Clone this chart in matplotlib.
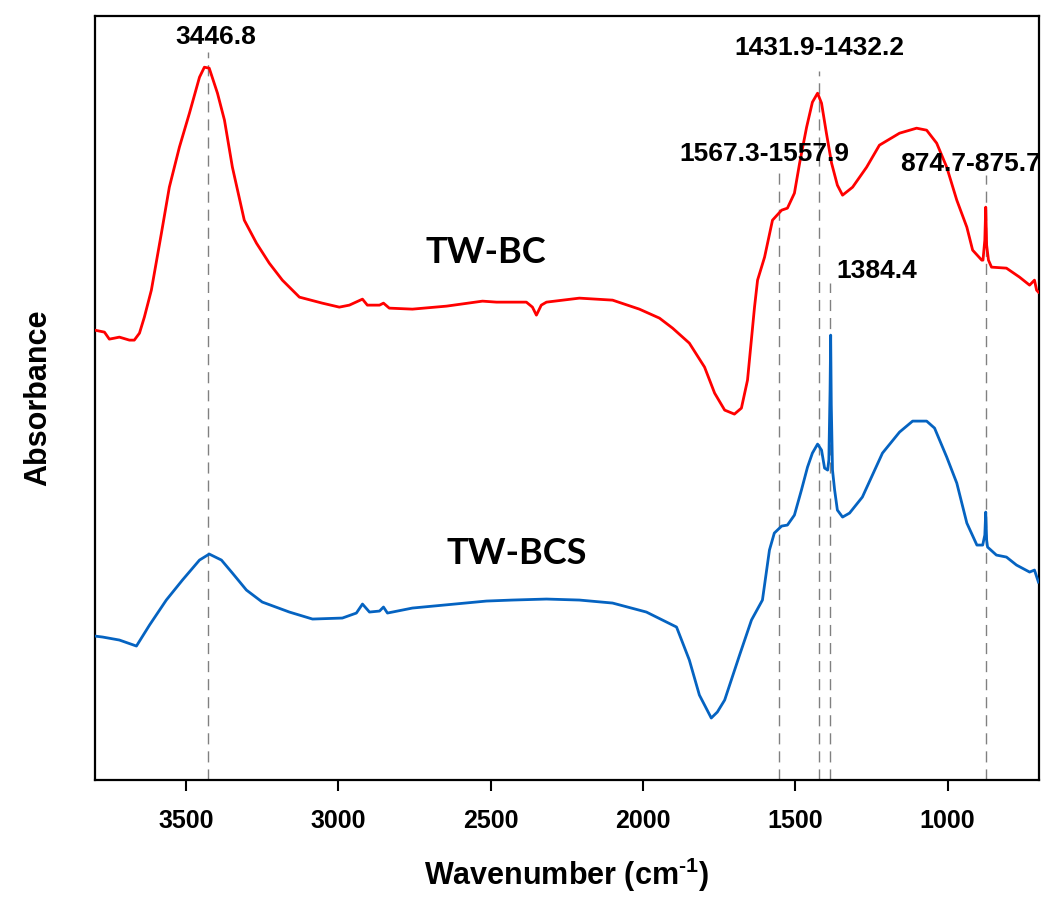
"""FTIR spectra of TW-BC and TW-BCS with annotated band positions."""
import numpy as np
import matplotlib
matplotlib.use("Agg")
import matplotlib.pyplot as plt

plt.rcParams["font.family"] = ["Liberation Sans", "DejaVu Sans"]
plt.rcParams["mathtext.fontset"] = "custom"
plt.rcParams["mathtext.rm"] = "Liberation Sans:bold"
plt.rcParams["mathtext.bf"] = "Liberation Sans:bold"

# ---------------------------------------------------------------------------
# Spectra (wavenumber in cm-1, absorbance in a.u.)
# ---------------------------------------------------------------------------
BC_WN = [3800, 3768, 3752, 3735, 3719, 3686, 3670, 3653, 3637, 3614, 3581,
         3555, 3522, 3489, 3456, 3440, 3424, 3397, 3374, 3348, 3309, 3269,
         3227, 3184, 3128, 3053, 2997, 2964, 2921, 2905, 2865, 2852, 2833,
         2757, 2645, 2527, 2481, 2383, 2363, 2350, 2334, 2317, 2209, 2100,
         2012, 1946, 1903, 1848, 1798, 1765, 1732, 1700, 1677, 1657, 1634,
         1624, 1601, 1575, 1545, 1526, 1503, 1486, 1463, 1444, 1427, 1414,
         1398, 1381, 1362, 1345, 1312, 1266, 1224, 1158, 1102, 1069, 1036,
         1003, 970, 937, 918, 888, 884, 878, 875, 872, 866, 856, 807, 764,
         731, 715, 708, 702]
BC_A = [0.900, 0.896, 0.882, 0.884, 0.886, 0.880, 0.880, 0.894, 0.926, 0.980,
        1.094, 1.186, 1.266, 1.334, 1.406, 1.426, 1.424, 1.374, 1.320, 1.226,
        1.120, 1.074, 1.034, 1.000, 0.966, 0.954, 0.946, 0.950, 0.962, 0.950,
        0.950, 0.954, 0.944, 0.942, 0.948, 0.958, 0.956, 0.956, 0.946, 0.930,
        0.950, 0.956, 0.964, 0.960, 0.942, 0.924, 0.904, 0.874, 0.826, 0.774,
        0.740, 0.732, 0.744, 0.800, 0.946, 1.000, 1.046, 1.120, 1.140, 1.144,
        1.174, 1.234, 1.306, 1.356, 1.374, 1.354, 1.294, 1.234, 1.190, 1.170,
        1.186, 1.226, 1.270, 1.294, 1.304, 1.300, 1.274, 1.226, 1.160, 1.106,
        1.060, 1.040, 1.040, 1.080, 1.146, 1.070, 1.040, 1.026, 1.024, 1.006,
        0.990, 1.000, 0.980, 0.976]

BCS_WN = [3800, 3774, 3719, 3663, 3620, 3565, 3512, 3456, 3424, 3384, 3348,
          3302, 3250, 3161, 3085, 2987, 2941, 2921, 2898, 2865, 2852, 2839,
          2757, 2514, 2429, 2317, 2209, 2100, 1989, 1890, 1848, 1815, 1776,
          1756, 1732, 1683, 1644, 1608, 1585, 1569, 1545, 1526, 1503, 1480,
          1460, 1444, 1427, 1414, 1404, 1394, 1390, 1386, 1384, 1382, 1378,
          1371, 1362, 1345, 1322, 1280, 1214, 1158, 1115, 1069, 1043, 1003,
          970, 937, 904, 885, 878, 875, 872, 869, 840, 807, 774, 731, 715, 702]
BCS_A = [0.288, 0.286, 0.280, 0.268, 0.310, 0.360, 0.400, 0.440, 0.452, 0.440,
         0.414, 0.380, 0.356, 0.336, 0.322, 0.324, 0.334, 0.352, 0.336, 0.338,
         0.346, 0.334, 0.344, 0.358, 0.360, 0.362, 0.360, 0.354, 0.336, 0.306,
         0.240, 0.170, 0.124, 0.136, 0.160, 0.250, 0.320, 0.360, 0.460, 0.494,
         0.508, 0.510, 0.530, 0.580, 0.626, 0.654, 0.672, 0.660, 0.624, 0.620,
         0.640, 0.780, 0.890, 0.750, 0.620, 0.580, 0.540, 0.526, 0.534, 0.566,
         0.654, 0.696, 0.718, 0.718, 0.704, 0.646, 0.594, 0.514, 0.470, 0.470,
         0.490, 0.536, 0.480, 0.466, 0.450, 0.446, 0.430, 0.416, 0.420, 0.396]

# Band markers: line position, line top, label text, label position
BAND_WN = [3427, 1553, 1421, 1385, 874]
BAND_TOP = [1.456, 1.226, 1.418, 0.994, 1.21]
BAND_TEXT = ["3446.8", "1567.3-1557.9", "1431.9-1432.2", "1384.4", "874.7-875.7"]
BAND_TEXT_WN = [3403, 1603, 1420, 1234, 925]
BAND_TEXT_A = [1.486, 1.252, 1.464, 1.018, 1.232]

SERIES = ["TW-BC", "TW-BCS"]
SERIES_LABEL_WN = [2517, 2416]
SERIES_LABEL_A = [1.056, 0.454]


def main() -> None:
    fig = plt.figure(figsize=(10.43, 8.98), dpi=100)
    ax = fig.add_axes([0.0908, 0.1314, 0.9054, 0.8511])

    for wn, top in zip(BAND_WN, BAND_TOP):
        ax.plot([wn, wn], [0, top], color="#808080", lw=1.0,
                dashes=(8, 5), zorder=1)

    ax.plot(BC_WN, BC_A, color="#FF0000", lw=2.0, zorder=3)
    ax.plot(BCS_WN, BCS_A, color="#0563C1", lw=2.0, zorder=3)

    for txt, x, y in zip(BAND_TEXT, BAND_TEXT_WN, BAND_TEXT_A):
        ax.text(x, y, txt, ha="center", va="center", fontsize=19,
                fontweight="bold", clip_on=False, zorder=4)

    for txt, x, y in zip(SERIES, SERIES_LABEL_WN, SERIES_LABEL_A):
        ax.text(x, y, txt, ha="center", va="center", fontsize=26,
                fontweight="bold", family=["Lato", "DejaVu Sans"], zorder=4)

    ax.set_xlim(3800, 700)
    ax.set_ylim(0, 1.529)
    ax.set_xticks([3500, 3000, 2500, 2000, 1500, 1000])
    ax.set_yticks([])
    ax.tick_params(axis="x", direction="out", length=8, width=1.5,
                   pad=13, labelsize=18)
    for lbl in ax.get_xticklabels():
        lbl.set_fontweight("bold")
    for sp in ax.spines.values():
        sp.set_linewidth(1.6)

    ax.set_xlabel("Wavenumber (cm$^{\\text{-1}}$)", fontsize=22,
                  fontweight="bold", labelpad=16)
    ax.set_ylabel("Absorbance", fontsize=22, fontweight="bold", labelpad=30)

    fig.savefig("out.png", dpi=100)
    plt.close(fig)


if __name__ == "__main__":
    main()
